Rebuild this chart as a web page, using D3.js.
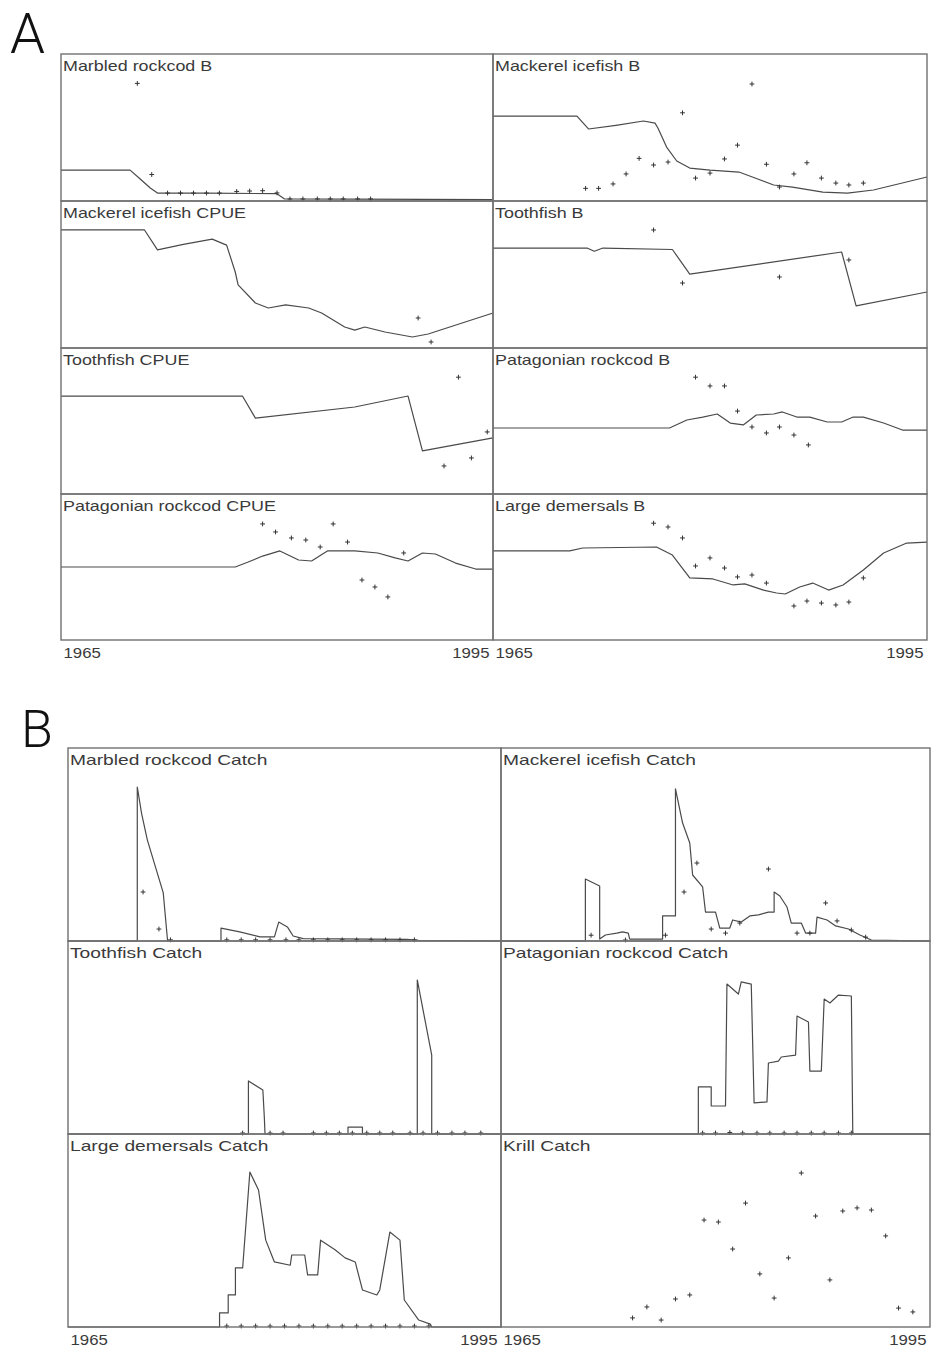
<!DOCTYPE html>
<html>
<head>
<meta charset="utf-8">
<script src="https://cdn.jsdelivr.net/npm/d3@7"></script>
<style>
  html, body { margin: 0; padding: 0; background: #fff; }
  svg { display: block; }
</style>
</head>
<body>
<svg id="chart" width="932" height="1350"></svg>
<script>
// ---- Years on the shared horizontal axis ----
const yearTicks = [1965, 1995];

// ---- A: biomass (B) and CPUE, model trajectory (line) and observations (+) ----
const marbledB_line = [[1965,21],[1969.8,21],[1970.5,15],[1971.2,8.8],[1971.7,5.4],[1975,5.3],[1980,5],[1980.5,1.5],[1995,1]];
const marbledB_obs = [[1970.3,80],[1971.3,18],[1972.4,5.4],[1973.3,5.4],[1974.2,5.4],[1975.1,5.4],[1976,5.4],[1977.2,6.5],[1978.1,6.8],[1979,7],[1980,5.5],[1980.9,1.4],[1981.8,1.4],[1982.8,1.4],[1983.7,1.4],[1984.6,1.4],[1985.6,1.4],[1986.5,1.4]];

const icefishB_line = [[1965,57.8],[1970.8,57.8],[1971.6,49],[1973.5,51.5],[1975.4,54.4],[1976.2,53],[1976.4,49.7],[1977,36.7],[1977.7,27.2],[1978.6,22.4],[1980,21],[1982,19.7],[1983.3,15],[1984.4,10.9],[1985.7,9.5],[1987.8,6.1],[1989.5,5.4],[1991.3,7.5],[1995,16.3]];
const icefishB_obs = [[1971.4,8.6],[1972.3,8.6],[1973.3,11.6],[1974.2,18.4],[1975.1,29],[1976.1,24.5],[1977.1,26.5],[1978.1,60],[1979,15.6],[1980,19],[1981,28.6],[1981.9,38],[1982.9,79.6],[1983.9,25],[1984.8,9.5],[1985.8,18.4],[1986.7,26],[1987.7,15.6],[1988.7,12.2],[1989.6,10.9],[1990.6,12.2]];

const icefishCPUE_line = [[1965,80.3],[1970.8,80.3],[1971.7,66.7],[1973.5,70.5],[1975.5,74.1],[1976.5,70],[1977.1,51.7],[1977.3,42.9],[1978.5,30.6],[1979.4,27.2],[1980.6,29.3],[1982.2,27.2],[1983.1,23.8],[1984.7,14.3],[1985.4,12.2],[1986.1,14.3],[1987.5,10.9],[1989.4,7.5],[1990.5,9.5],[1995,23.8]];
const icefishCPUE_obs = [[1989.8,20.4],[1990.7,4.1]];

const toothB_line = [[1965,68],[1971.5,68],[1972,65.8],[1972.6,68],[1977.4,67],[1978.6,50.3],[1989.1,65.3],[1990.1,28.6],[1995,38.1]];
const toothB_obs = [[1976.1,80.3],[1978.1,44.2],[1984.8,48.3],[1989.6,59.9]];

const toothCPUE_line = [[1965,67.1],[1977.6,67.1],[1978.5,52],[1985.4,59.6],[1989.1,67.1],[1990.1,29.5],[1995,38.4]];
const toothCPUE_obs = [[1991.6,19.2],[1992.6,80],[1993.5,24.7],[1994.6,42.5]];

const patB_line = [[1965,45.2],[1977.2,45.2],[1978.4,50.7],[1979.5,52.7],[1980.5,54.8],[1981.4,48.6],[1982.3,47.3],[1983.2,54.1],[1984.4,54.8],[1985,56.2],[1986,52.7],[1986.9,52.7],[1988.1,49.3],[1989.1,49.3],[1989.9,52.7],[1990.6,52.7],[1992,48.6],[1993.3,43.8],[1995,43.8]];
const patB_obs = [[1979,80],[1980,74],[1981,74],[1981.9,56.8],[1982.9,45.9],[1983.9,41.8],[1984.8,45.9],[1985.8,40.4],[1986.8,33.6]];

const patCPUE_line = [[1965,50],[1977.1,50],[1978,53.4],[1979,57.5],[1980.2,61],[1981.5,54.8],[1982.4,54.1],[1983.5,61],[1985.4,61],[1987,59.6],[1988.2,56.2],[1989.1,54.1],[1990.1,59.6],[1991,58.9],[1992.4,52.7],[1993.8,48.6],[1995,48.6]];
const patCPUE_obs = [[1979,79.5],[1979.9,74],[1981,69.9],[1982,68.5],[1983,63.7],[1983.9,79.5],[1984.9,67.1],[1985.9,41.1],[1986.8,36.3],[1987.7,29.5],[1988.8,59.6]];

const demB_line = [[1965,61],[1970.3,61],[1971.2,63],[1976.3,63.7],[1977.4,58.2],[1978.6,42.5],[1980.2,41.8],[1981.6,37.7],[1982.4,38.4],[1983.7,34.2],[1984.6,32.2],[1985.2,31.5],[1986.2,36.3],[1987.1,39],[1988.2,34.2],[1989.2,37.7],[1990.6,47.9],[1992,59.6],[1993.6,66.4],[1995,67.1]];
const demB_obs = [[1976.1,80],[1977.1,77.4],[1978.1,69.9],[1979,50.7],[1980,56.2],[1981,49.3],[1981.9,43.2],[1982.9,44.5],[1983.9,39],[1985.8,23.3],[1986.7,26.7],[1987.7,25.3],[1988.7,24],[1989.6,26],[1990.6,42.5]];

// ---- B: catches, model (line) and reported (+) ----
const marbledC_line = [[1965,0],[1969.8,0],[1969.8,79.8],[1970.1,66],[1970.5,52.3],[1971.6,24.9],[1971.9,0],[1975.6,0],[1975.6,6.7],[1976.9,4.7],[1978.3,2.1],[1979.3,2.1],[1979.6,9.8],[1980.2,7.3],[1980.6,2.6],[1981.3,1.2],[1988.5,0.8],[1989.3,0.4],[1995,0]];
const marbledC_obs = [[1970.2,25.4],[1971.3,6.2],[1972.1,0.6],[1976,0.6],[1977,0.6],[1978,0.6],[1979,0.6],[1980.1,0.6],[1981,0.6],[1982,0.6],[1983,0.6],[1984,0.6],[1985,0.6],[1986,0.6],[1987,0.6],[1988,0.6],[1989,0.6]];

const icefishC_line = [[1965,0],[1970.9,0],[1970.9,32.1],[1971.9,28.5],[1971.9,1],[1972.3,3.1],[1973.1,4.1],[1973.5,4.7],[1973.9,4.1],[1974,1],[1976.3,1],[1976.3,13],[1977.2,13],[1977.2,78.8],[1977.7,61.1],[1978.2,50.8],[1978.4,34.2],[1979.1,28],[1979.3,15],[1980,15],[1980.3,6.7],[1981,6.7],[1981.2,10.9],[1981.8,9.8],[1982.4,13],[1983,13.5],[1983.7,15],[1984.1,15],[1984.1,25.4],[1984.5,23.3],[1985,17.6],[1985.3,9.3],[1986,9.3],[1986.3,4.1],[1987,4.1],[1987.1,12.4],[1987.8,10.9],[1988.4,7.8],[1989.3,6.2],[1990.1,3.1],[1990.9,0.5],[1995,0]];
const icefishC_obs = [[1971.3,3],[1973.7,0.5],[1976.5,3],[1977.8,25.4],[1978.7,40.4],[1979.7,6.2],[1980.7,4.1],[1981.7,9.3],[1983.7,37.3],[1985.7,4.1],[1986.6,4.1],[1987.7,19.7],[1988.5,10.4],[1989.5,5.7],[1990.5,2]];

const toothC_line = [[1965,0],[1977.5,0],[1977.5,27.5],[1978.5,22.8],[1978.6,9],[1978.65,0],[1984.4,0],[1984.4,3.6],[1985.4,3.6],[1985.4,0],[1989.2,0],[1989.2,79.8],[1990.2,40.9],[1990.2,0],[1995,0]];
const toothC_obs = [[1977.1,0.5],[1979,0.5],[1979.9,0.5],[1982,0.5],[1982.9,0.5],[1983.8,0.5],[1984.7,0.5],[1985.7,0.5],[1986.6,0.5],[1987.5,0.5],[1988.7,0.5],[1989.6,0.5],[1990.6,0.5],[1991.6,0.5],[1992.5,0.5],[1993.6,0.5]];

const patC_line = [[1965,0],[1978.8,0],[1978.8,24.4],[1979.7,24.4],[1979.7,14.5],[1980.7,14.5],[1980.8,77.7],[1981.6,72.5],[1981.8,78.8],[1982.5,77.7],[1982.7,16.1],[1983.6,16.6],[1983.7,36.8],[1984.4,37.8],[1984.6,39.9],[1985.6,40.9],[1985.7,61.1],[1986.5,58],[1986.6,32.6],[1987.4,32.6],[1987.6,69.9],[1988,67.9],[1988.6,72],[1989.5,71.5],[1989.6,0],[1995,0]];
const patC_obs = [[1979.1,0.5],[1980,0.5],[1981,0.8],[1981.9,0.5],[1982.9,0.5],[1983.8,0.5],[1984.8,0.5],[1985.7,0.5],[1986.7,0.5],[1987.6,0.5],[1988.6,0.5],[1989.5,0.5]];

const demC_line = [[1965,0],[1975.5,0],[1975.5,7.3],[1976.1,7.3],[1976.1,16.6],[1976.6,16.6],[1976.6,30.6],[1977.1,30.6],[1977.6,80.3],[1978.2,71],[1978.7,45],[1979.3,33.7],[1980.4,32],[1980.5,37.3],[1981.4,37.3],[1981.6,27],[1982.3,27],[1982.5,45],[1983.5,40],[1984.2,35.8],[1984.9,33.7],[1985.4,19.2],[1986.4,16.6],[1986.6,19.2],[1987.3,49.2],[1988,45],[1988.3,14],[1989.3,3.6],[1990.1,1.5],[1990.2,0],[1995,0]];
const demC_obs = [[1976,0.5],[1977,0.5],[1978,0.5],[1979,0.5],[1980,0.5],[1981,0.5],[1982,0.5],[1983,0.5],[1984,0.5],[1985,0.5],[1986,0.5],[1987,0.5],[1988,0.5],[1989,0.5],[1990,0.5]];

const krillC_obs = [[1974.2,4.7],[1975.2,10.4],[1976.2,3.6],[1977.2,14.5],[1978.2,16.6],[1979.2,55.4],[1980.2,54.4],[1981.2,40.4],[1982.1,64.2],[1983.1,27.5],[1984.1,15],[1985.1,35.8],[1986,79.8],[1987,57.5],[1988,24.4],[1988.9,60.1],[1989.9,61.7],[1990.9,60.6],[1991.9,47.2],[1992.8,9.8],[1993.8,7.8]];

// ---- Panel contents, left-to-right, top-to-bottom ----
const panelsA = [
  { title: "Marbled rockcod B",        line: marbledB_line,    obs: marbledB_obs },
  { title: "Mackerel icefish B",       line: icefishB_line,    obs: icefishB_obs },
  { title: "Mackerel icefish CPUE",    line: icefishCPUE_line, obs: icefishCPUE_obs },
  { title: "Toothfish B",              line: toothB_line,      obs: toothB_obs },
  { title: "Toothfish CPUE",           line: toothCPUE_line,   obs: toothCPUE_obs },
  { title: "Patagonian rockcod B",     line: patB_line,        obs: patB_obs },
  { title: "Patagonian rockcod CPUE",  line: patCPUE_line,     obs: patCPUE_obs },
  { title: "Large demersals B",        line: demB_line,        obs: demB_obs }
];
const panelsB = [
  { title: "Marbled rockcod Catch",    line: marbledC_line, obs: marbledC_obs },
  { title: "Mackerel icefish Catch",   line: icefishC_line, obs: icefishC_obs },
  { title: "Toothfish Catch",          line: toothC_line,   obs: toothC_obs },
  { title: "Patagonian rockcod Catch", line: patC_line,     obs: patC_obs },
  { title: "Large demersals Catch",    line: demC_line,     obs: demC_obs },
  { title: "Krill Catch",              line: null,          obs: krillC_obs }
];

// ---- Drawing ----
const svg = d3.select("#chart");
const INK = "#4a4a4a";
const FRAME = "#707070";
const TEXT = "#3a3a3a";
const STRETCH = 1.28;

function drawPanel(g, p, x0, x1, y0, y1, fontSize) {
  const x = d3.scaleLinear().domain([1965, 1995]).range([x0, x1]);
  const y = d3.scaleLinear().domain([0, 100]).range([y1, y0]);

  if (p.line) {
    g.append("path")
      .datum(p.line)
      .attr("fill", "none")
      .attr("stroke", INK)
      .attr("stroke-width", 1.2)
      .attr("stroke-linejoin", "round")
      .attr("d", d3.line().x(d => x(d[0])).y(d => y(d[1])));
  }

  const arm = 2.4;
  g.append("g").selectAll("path")
    .data(p.obs)
    .join("path")
      .attr("stroke", "#333")
      .attr("stroke-width", 1)
      .attr("d", d => {
        const cx = x(d[0]), cy = y(d[1]);
        return `M${cx - arm},${cy}H${cx + arm}M${cx},${cy - arm}V${cy + arm}`;
      });

  g.append("rect")
    .attr("x", x0).attr("y", y0)
    .attr("width", x1 - x0).attr("height", y1 - y0)
    .attr("fill", "none")
    .attr("stroke", FRAME)
    .attr("stroke-width", 1.4);

  g.append("text")
    .attr("transform", `translate(${x0 + 2},${y0 + 17}) scale(${STRETCH},1)`)
    .attr("font-family", "'Liberation Sans', Arial, sans-serif")
    .attr("font-size", fontSize)
    .attr("fill", TEXT)
    .text(p.title);

  return x;
}

function drawBlock(panels, cols, rows, fontSize, axisY) {
  const g = svg.append("g");
  let scales = [];
  panels.forEach((p, i) => {
    const c = i % 2, r = Math.floor(i / 2);
    const xs = drawPanel(g, p, cols[c], cols[c + 1], rows[r], rows[r + 1], fontSize);
    if (r === rows.length - 2) scales[c] = xs;
  });
  // year labels under each column
  scales.forEach(xs => {
    const ax = g.append("g")
      .attr("transform", `translate(0,${axisY})`)
      .call(d3.axisBottom(xs).tickValues(yearTicks).tickSize(0).tickPadding(0).tickFormat(d3.format("d")));
    ax.select(".domain").remove();
    ax.selectAll("text")
      .attr("dy", 0)
      .attr("y", 0)
      .attr("font-family", "'Liberation Sans', Arial, sans-serif")
      .attr("font-size", 14)
      .attr("fill", TEXT)
      .attr("text-anchor", (d, i) => i === 0 ? "start" : "end")
      .attr("transform", (d, i) => `translate(${i === 0 ? 2 : -4},0) scale(1.2,1)`);
  });
  return g;
}

drawBlock(panelsA, [61, 493, 927], [54, 201, 348, 494, 640], 14, 658);
drawBlock(panelsB, [68, 501, 930], [748, 941, 1134, 1327], 15, 1345);

// block letters
svg.append("text")
  .attr("x", 10).attr("y", 53)
  .attr("font-family", "Roboto, sans-serif")
  .attr("font-weight", 300)
  .attr("font-size", 56)
  .attr("fill", "#111")
  .text("A");
svg.append("text")
  .attr("x", 21).attr("y", 747)
  .attr("font-family", "Roboto, sans-serif")
  .attr("font-weight", 300)
  .attr("font-size", 52)
  .attr("fill", "#111")
  .text("B");
</script>
</body>
</html>
